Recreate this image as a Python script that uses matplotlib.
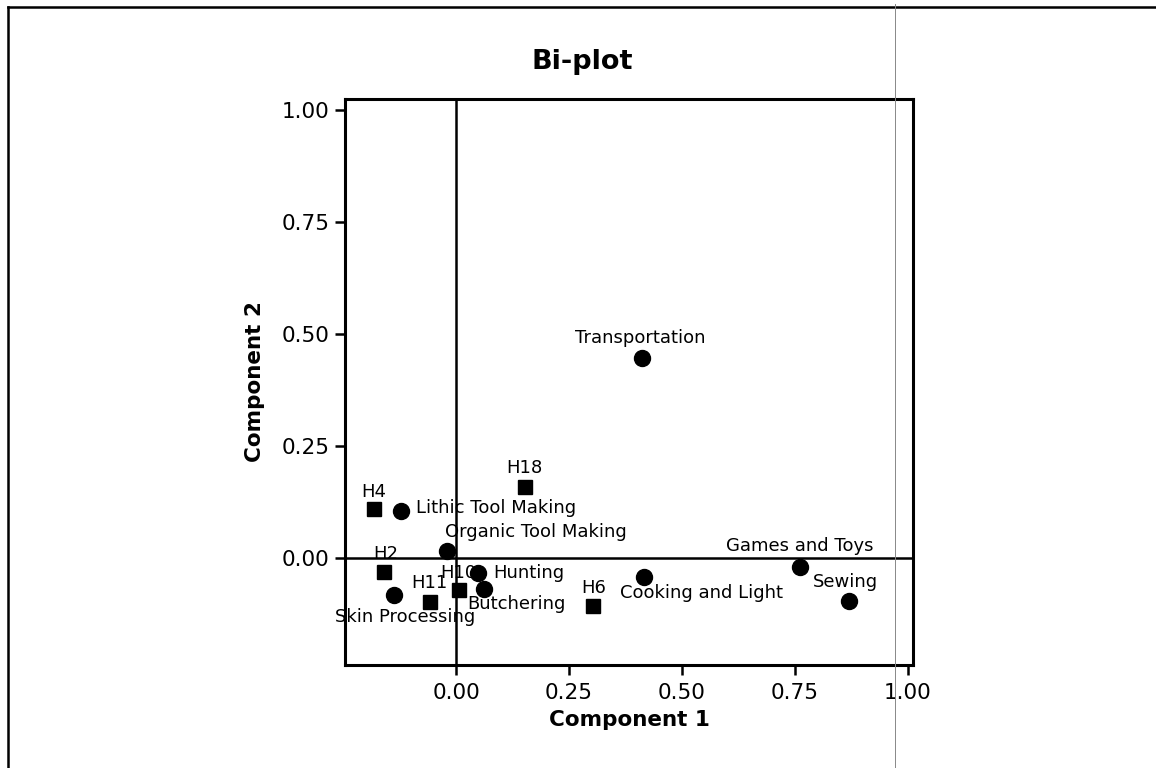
import matplotlib
matplotlib.use("Agg")
import matplotlib.pyplot as plt
from matplotlib.lines import Line2D
from matplotlib.ticker import FixedLocator, FormatStrFormatter

# Houses (square markers)
house_names = ["H4", "H18", "H2", "H11", "H10", "H6"]
house_c1 = [-0.182, 0.152, -0.160, -0.057, 0.006, 0.304]
house_c2 = [0.109, 0.160, -0.031, -0.097, -0.071, -0.106]

# Activities (circle markers)
activity_names = ["Transportation", "Lithic Tool Making", "Organic Tool Making",
                  "Hunting", "Butchering", "Skin Processing",
                  "Cooking and Light", "Games and Toys", "Sewing"]
activity_c1 = [0.411, -0.121, -0.020, 0.049, 0.061, -0.138, 0.415, 0.762, 0.869]
activity_c2 = [0.448, 0.106, 0.017, -0.033, -0.069, -0.082, -0.041, -0.019, -0.095]

ticks = [0.00, 0.25, 0.50, 0.75, 1.00]

# label placement relative to each marker: (dx px, dy px, horizontal alignment)
label_offsets = {
    "H4": (0, 17, "center"), "H18": (0, 19, "center"), "H2": (2, 18, "center"),
    "H11": (-1, 19, "center"), "H10": (0, 17, "center"), "H6": (0, 18, "center"),
    "Transportation": (-2, 20, "center"), "Lithic Tool Making": (15, 3, "left"),
    "Organic Tool Making": (-2, 19, "left"), "Hunting": (15, 0, "left"),
    "Butchering": (-16, -15, "left"), "Skin Processing": (-59, -22, "left"),
    "Cooking and Light": (-24, -16, "left"), "Games and Toys": (-1, 21, "center"),
    "Sewing": (-3, 19, "center"),
}

W, H, DPI = 1156, 768, 100
PX = 72.0 / DPI  # points per pixel

fig = plt.figure(figsize=(W / DPI, H / DPI), dpi=DPI, facecolor="white")
ax = fig.add_axes([345 / W, 1 - 665 / H, (913 - 345) / W, (665 - 99) / H])

ax.set_xlim(-0.2456, 1.011)
ax.set_ylim(-0.238, 1.025)

ax.axhline(0, color="black", lw=1.8, zorder=1)
ax.axvline(0, color="black", lw=1.8, zorder=1)

ax.plot(house_c1, house_c2, linestyle="none", marker="s", ms=10,
        color="black", zorder=3)
ax.plot(activity_c1, activity_c2, linestyle="none", marker="o", ms=11.5,
        color="black", zorder=3)

label_font = dict(family="DejaVu Sans", fontsize=13, color="black")
for name, x, y in zip(house_names + activity_names,
                      house_c1 + activity_c1, house_c2 + activity_c2):
    dx, dy, ha = label_offsets[name]
    ax.annotate(name, (x, y), xytext=(dx * PX, dy * PX),
                textcoords="offset points", ha=ha, va="center",
                zorder=4, **label_font)

for side in ("left", "bottom", "right", "top"):
    ax.spines[side].set_linewidth(2.2)
    ax.spines[side].set_color("black")

ax.xaxis.set_major_locator(FixedLocator(ticks))
ax.yaxis.set_major_locator(FixedLocator(ticks))
ax.xaxis.set_major_formatter(FormatStrFormatter("%.2f"))
ax.yaxis.set_major_formatter(FormatStrFormatter("%.2f"))
ax.tick_params(direction="out", length=7, width=1.8, labelsize=15.5,
               top=False, right=False)
ax.tick_params(axis="x", pad=6)
ax.tick_params(axis="y", pad=4)

ax.set_xlabel("Component 1", fontsize=15.5, fontweight="bold", labelpad=5)
ax.set_ylabel("Component 2", fontsize=15.5, fontweight="bold", labelpad=12)

fig.text(582 / W, 1 - 62 / H, "Bi-plot", fontsize=19.5, fontweight="bold",
         ha="center", va="center")

# outer frame (top and left edges) and a thin guide line
fig.add_artist(Line2D([8 / W, 1.0], [1 - 7 / H, 1 - 7 / H], color="black",
                      lw=1.8, transform=fig.transFigure))
fig.add_artist(Line2D([8 / W, 8 / W], [0.0, 1 - 7 / H], color="black",
                      lw=1.8, transform=fig.transFigure))
fig.add_artist(Line2D([895 / W, 895 / W], [0.0, 1 - 4 / H], color="#888888",
                      lw=0.7, transform=fig.transFigure))

fig.savefig("out.png", dpi=DPI, facecolor="white")
